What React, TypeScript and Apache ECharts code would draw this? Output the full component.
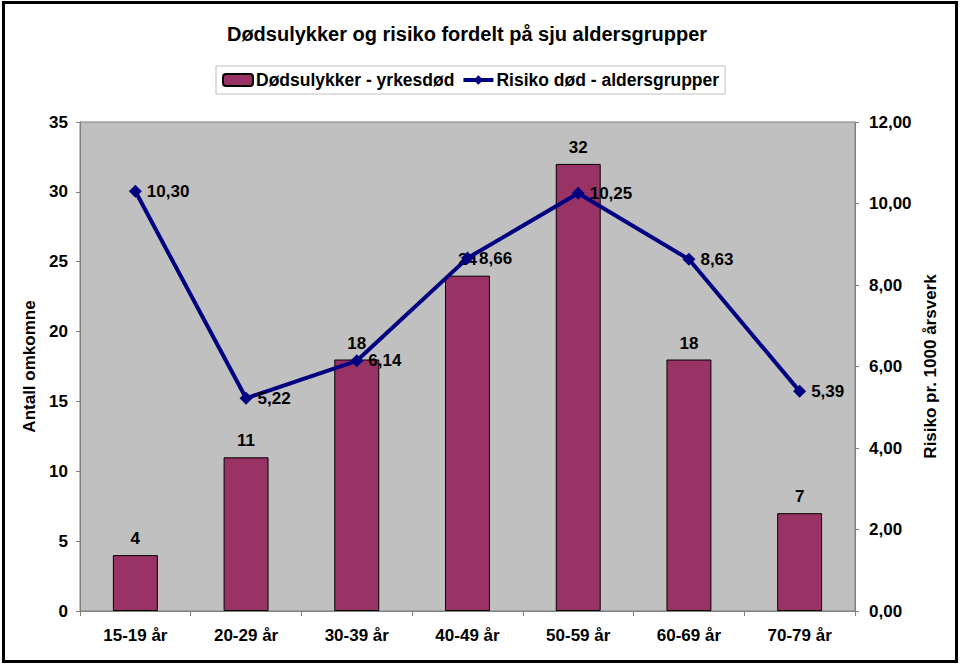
import React, { useEffect, useRef } from "react";
import * as echarts from "echarts";

const categories = ["15-19 år", "20-29 år", "30-39 år", "40-49 år", "50-59 år", "60-69 år", "70-79 år"];
const deaths = [4, 11, 18, 24, 32, 18, 7];
const risk = [10.3, 5.22, 6.14, 8.66, 10.25, 8.63, 5.39];
const seriesNames = ["Dødsulykker - yrkesdød", "Risiko død - aldersgrupper"];
const titleText = "Dødsulykker og risiko fordelt på sju aldersgrupper";
const leftAxisName = "Antall omkomne";
const rightAxisName = "Risiko pr. 1000 årsverk";

const FONT = "'Liberation Sans', Arial, sans-serif";
const FS = 17;
const fmt = (v: number) => v.toFixed(2).replace(".", ",");

export default function App() {
  const ref = useRef<HTMLDivElement>(null);
  useEffect(() => {
    if (!ref.current) return;
    const chart = echarts.init(ref.current, undefined, { renderer: "svg" });
    chart.setOption({
      animation: false,
      backgroundColor: "#ffffff",
      textStyle: { fontFamily: FONT },
      title: {
        text: titleText,
        left: 462,
        top: 19,
        textAlign: "center",
        textStyle: { fontFamily: FONT, fontSize: 20, fontWeight: "bold", color: "#000" },
      },
      legend: {
        left: 216,
        top: 66,
        padding: [5, 6, 5, 6],
        itemGap: 7,
        itemWidth: 30,
        itemHeight: 12,
        backgroundColor: "#ffffff",
        borderColor: "#c0c0c0",
        borderWidth: 1,
        textStyle: { fontFamily: FONT, fontSize: 17.5, fontWeight: "bold", color: "#000", padding: [0, 0, 0, -2] },
        data: [
          { name: seriesNames[0] },
          { name: seriesNames[1], lineStyle: { width: 4 } },
        ],
      },
      graphic: [
        {
          type: "rect",
          shape: { x: 3.5, y: 2.5, width: 953, height: 659 },
          style: { fill: "none", stroke: "#000", lineWidth: 3 },
          silent: true,
        },
      ],
      grid: {
        left: 80,
        right: 105,
        top: 122,
        bottom: 54,
        show: true,
        backgroundColor: "#C0C0C0",
        borderColor: "#808080",
        borderWidth: 1,
      },
      xAxis: {
        type: "category",
        data: categories,
        boundaryGap: true,
        axisLine: { lineStyle: { color: "#808080", width: 1 } },
        axisTick: { show: true, length: 5, alignWithLabel: false, lineStyle: { color: "#808080" } },
        axisLabel: { fontFamily: FONT, fontSize: FS, fontWeight: "bold", color: "#000", margin: 16, interval: 0 },
      },
      yAxis: [
        {
          type: "value",
          min: 0,
          max: 35,
          interval: 5,
          name: leftAxisName,
          nameLocation: "middle",
          nameGap: 41,
          nameTextStyle: { fontFamily: FONT, fontSize: FS, fontWeight: "bold", color: "#000" },
          axisLine: { show: true, lineStyle: { color: "#808080" } },
          axisTick: { show: true, length: 4, lineStyle: { color: "#808080" } },
          splitLine: { show: false },
          axisLabel: { fontFamily: FONT, fontSize: FS, fontWeight: "bold", color: "#000", margin: 12 },
        },
        {
          type: "value",
          min: 0,
          max: 12,
          interval: 2,
          position: "right",
          name: rightAxisName,
          nameLocation: "middle",
          nameGap: 60,
          nameTextStyle: { fontFamily: FONT, fontSize: FS, fontWeight: "bold", color: "#000" },
          axisLine: { show: true, lineStyle: { color: "#808080" } },
          axisTick: { show: true, length: 4, lineStyle: { color: "#808080" } },
          splitLine: { show: false },
          axisLabel: {
            fontFamily: FONT,
            fontSize: FS,
            fontWeight: "bold",
            color: "#000",
            margin: 14,
            formatter: (v: number) => fmt(v),
          },
        },
      ],
      series: [
        {
          name: seriesNames[0],
          type: "bar",
          data: deaths,
          yAxisIndex: 0,
          barWidth: "40.6%",
          itemStyle: { color: "#993366", borderColor: "#000", borderWidth: 1 },
          label: {
            show: true,
            position: "top",
            distance: 8,
            fontFamily: FONT,
            fontSize: FS,
            fontWeight: "bold",
            color: "#000",
          },
        },
        {
          name: seriesNames[1],
          type: "line",
          data: risk,
          yAxisIndex: 1,
          symbol: "diamond",
          symbolSize: 13,
          z: 5,
          lineStyle: { color: "#000080", width: 4 },
          itemStyle: { color: "#000080" },
          label: {
            show: true,
            position: "right",
            distance: 5,
            fontFamily: FONT,
            fontSize: FS,
            fontWeight: "bold",
            color: "#000",
            formatter: (p: any) => fmt(p.value),
          },
        },
      ],
    });
    return () => chart.dispose();
  }, []);
  return <div ref={ref} style={{ position: "fixed", left: 0, top: 0, width: 960, height: 665 }} />;
}
